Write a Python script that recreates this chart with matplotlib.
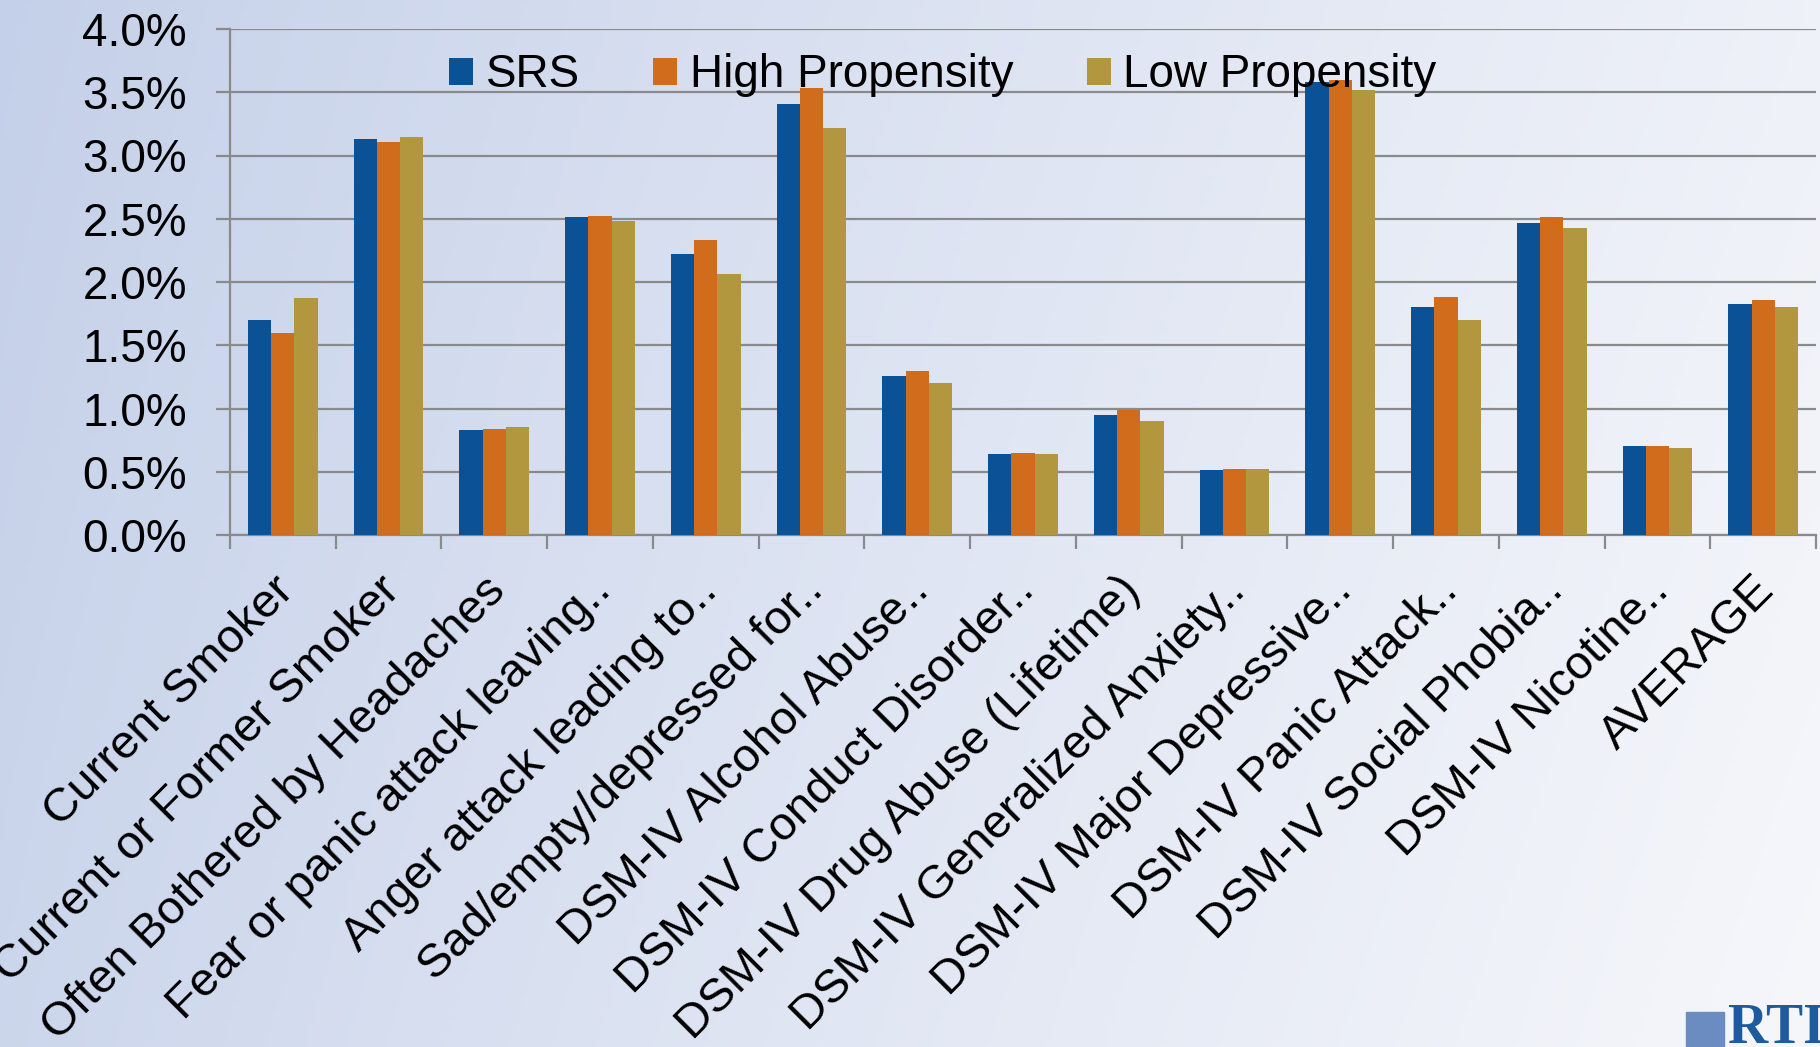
import numpy as np
import matplotlib
matplotlib.use('Agg')
import matplotlib.pyplot as plt
from matplotlib.ticker import PercentFormatter

plt.rcParams['font.family'] = ['Liberation Sans', 'DejaVu Sans']

categories = ['Current Smoker', 'Current or Former Smoker', 'Often Bothered by Headaches',
              'Fear or panic attack leaving..', 'Anger attack leading to..',
              'Sad/empty/depressed for..', 'DSM-IV Alcohol Abuse..',
              'DSM-IV Conduct Disorder..', 'DSM-IV Drug Abuse (Lifetime)',
              'DSM-IV Generalized Anxiety..', 'DSM-IV Major Depressive..',
              'DSM-IV Panic Attack..', 'DSM-IV Social Phobia..', 'DSM-IV Nicotine..',
              'AVERAGE']
srs  = [1.70, 3.13, 0.83, 2.51, 2.22, 3.41, 1.26, 0.64, 0.95, 0.51, 3.58, 1.80, 2.47, 0.70, 1.83]
high = [1.60, 3.11, 0.84, 2.52, 2.33, 3.53, 1.30, 0.65, 0.99, 0.52, 3.60, 1.88, 2.51, 0.70, 1.86]
low  = [1.87, 3.15, 0.85, 2.48, 2.06, 3.22, 1.20, 0.64, 0.90, 0.52, 3.52, 1.70, 2.43, 0.69, 1.80]
series = ['SRS', 'High Propensity', 'Low Propensity']
colors = ['#0a5295', '#d06c1c', '#b2973e']

W, H, dpi = 1820, 1047, 100.0
fig = plt.figure(figsize=(W/dpi, H/dpi), dpi=dpi)

# slide background gradient
bg = fig.add_axes([0, 0, 1, 1], zorder=-10)
gx, gy = np.meshgrid(np.linspace(0, 1, 400), np.linspace(0, 1, 240))
t = np.clip(0.85*gx**0.9 + 0.15*gy, 0, 1)[..., None]
left_c = np.array([196, 208, 233]) / 255.
right_c = np.array([246, 247, 251]) / 255.
bg.imshow(left_c*(1-t) + right_c*t, aspect='auto', extent=[0, 1, 0, 1], origin='upper')
bg.axis('off')

ax = fig.add_axes([230/W, 1-535/H, (1816-230)/W, (535-29)/H])
ax.patch.set_alpha(0)

x = np.arange(len(categories))
w = 0.22
for i, (vals, c, name) in enumerate(zip([srs, high, low], colors, series)):
    ax.bar(x + (i-1)*w, vals, w, color=c, label=name, zorder=3)

ax.set_xlim(-0.5, len(categories)-0.5)
ax.set_ylim(0, 4.0)
ax.set_yticks(np.arange(0, 4.01, 0.5))
ax.yaxis.set_major_formatter(PercentFormatter(decimals=1))
ax.grid(axis='y', color='#8a8a8a', lw=1.6, zorder=0)
for s in ['top', 'right']:
    ax.spines[s].set_visible(False)
for s in ['left', 'bottom']:
    ax.spines[s].set_color('#8a8a8a')
    ax.spines[s].set_linewidth(1.6)

# boundary ticks as major, labels on invisible minor ticks nudged right
ax.set_xticks(np.arange(len(categories)+1) - 0.5)
ax.set_xticklabels([])
ax.set_xticks(x + 0.19, minor=True)
ax.set_xticklabels(categories, minor=True, rotation=45, ha='right', va='top',
                   fontsize=34)
ax.tick_params(axis='x', which='major', length=10, width=1.6, color='#8a8a8a')
ax.tick_params(axis='x', which='minor', length=0, pad=24)
ax.tick_params(axis='y', length=10, width=1.6, color='#8a8a8a', labelsize=33, pad=21)

ax.legend(loc='center', bbox_to_anchor=(0.518, 0.928), bbox_transform=fig.transFigure,
          ncol=3, frameon=False, fontsize=33, handlelength=0.52, handleheight=0.54,
          handletextpad=0.28, columnspacing=1.6)

# logo corner
fig.patches.append(plt.Rectangle((1686/W, 0), 38/W, 35/H, transform=fig.transFigure,
                                 color='#6a8cc0', zorder=5))
fig.text(1728/W, -8/H, 'RTI', fontsize=40, color='#1d5a9e', family='Liberation Serif',
         fontweight='bold', va='bottom', ha='left')

fig.savefig('out.png', dpi=dpi)
